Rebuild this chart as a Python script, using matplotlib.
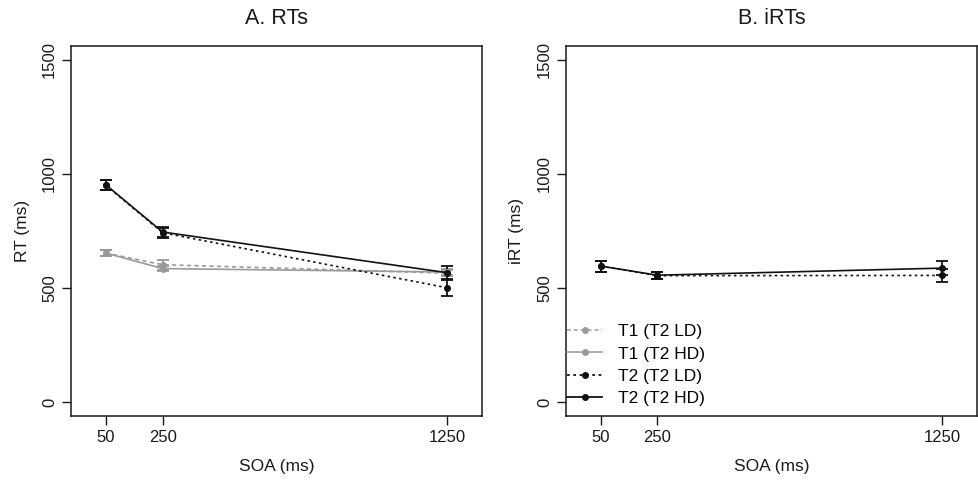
import matplotlib
matplotlib.use("Agg")
import matplotlib.pyplot as plt
from matplotlib.lines import Line2D

plt.rcParams["font.family"] = ["Liberation Sans", "DejaVu Sans"]

# ---- data ----
soa = [50, 250, 1250]

# panel A: RTs
t1_ld_rt = [653, 602, 565]
t1_ld_err = [12, 22, 12]
t1_hd_rt = [653, 585, 570]
t1_hd_err = [12, 12, 12]
t2_ld_rt = [950, 742, 501]
t2_ld_err = [22, 22, 36]
t2_hd_rt = [952, 745, 567]
t2_hd_err = [22, 22, 29]

# panel B: iRTs (T2 only)
t2_ld_irt = [596, 554, 555]
t2_ld_irt_err = [24, 16, 30]
t2_hd_irt = [596, 556, 587]
t2_hd_irt_err = [24, 16, 30]

legend_labels = ["T1 (T2 LD)", "T1 (T2 HD)", "T2 (T2 LD)", "T2 (T2 HD)"]
yticks = [0, 500, 1000, 1500]

GREY = "#9a9a9a"
BLACK = "#111111"
TXT = "#1a1a1a"

fig = plt.figure(figsize=(9.79, 4.82), dpi=100)
ax1 = fig.add_axes([0.0725, 0.137, 0.42, 0.768])
ax2 = fig.add_axes([0.578, 0.137, 0.42, 0.768])


def draw(ax, y, err, color, ls):
    ax.errorbar(soa, y, yerr=err, color=color, ls=ls, lw=1.2,
                marker="o", ms=4, capsize=4.5, capthick=1.3, elinewidth=1.3)


draw(ax1, t1_ld_rt, t1_ld_err, GREY, (0, (2.5, 2)))
draw(ax1, t1_hd_rt, t1_hd_err, GREY, "-")
draw(ax1, t2_ld_rt, t2_ld_err, BLACK, (0, (1.5, 2)))
draw(ax1, t2_hd_rt, t2_hd_err, BLACK, "-")

draw(ax2, t2_ld_irt, t2_ld_irt_err, BLACK, (0, (1.5, 2)))
draw(ax2, t2_hd_irt, t2_hd_irt_err, BLACK, "-")

for ax, title, ylab in [(ax1, "A. RTs", "RT (ms)"), (ax2, "B. iRTs", "iRT (ms)")]:
    ax.set_xlim(-72, 1373)
    ax.set_ylim(-60, 1560)
    ax.set_xticks(soa)
    ax.set_xticklabels([str(s) for s in soa])
    ax.set_yticks(yticks)
    ax.set_yticklabels([str(t) for t in yticks], rotation=90, va="center")
    ax.tick_params(direction="out", length=6.5, width=1, labelsize=12,
                   colors=TXT, pad=3.5)
    for sp in ax.spines.values():
        sp.set_linewidth(1.1)
        sp.set_color(TXT)
    ax.set_title(title, fontsize=15.5, pad=16, color=TXT)
    ax.set_xlabel("SOA (ms)", fontsize=12.5, labelpad=10, color=TXT)
    ax.set_ylabel(ylab, fontsize=12.5, labelpad=9, color=TXT)

handles = [
    Line2D([], [], color=GREY, ls=(0, (2.5, 2)), lw=1.1, marker="o", ms=4),
    Line2D([], [], color=GREY, ls="-", lw=1.1, marker="o", ms=4),
    Line2D([], [], color=BLACK, ls=(0, (1.5, 2)), lw=1.3, marker="o", ms=4),
    Line2D([], [], color=BLACK, ls="-", lw=1.3, marker="o", ms=4),
]
ax2.legend(handles, legend_labels, loc="lower left", frameon=False,
           fontsize=12.5, handlelength=2.0, handletextpad=0.9,
           labelspacing=0.42, borderaxespad=0.15,
           bbox_to_anchor=(-0.02, 0.0))

fig.savefig("out.png", dpi=100)
